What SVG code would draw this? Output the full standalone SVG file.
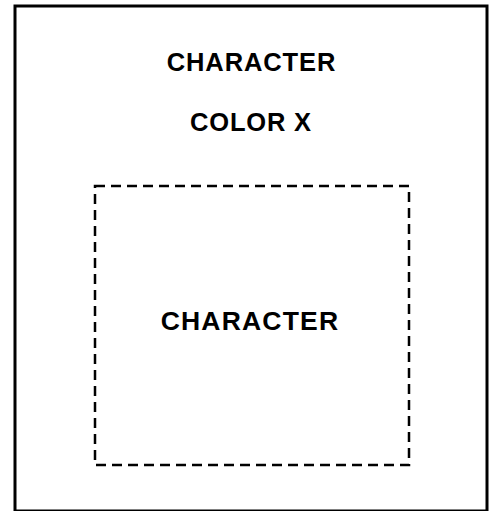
<svg xmlns="http://www.w3.org/2000/svg" width="492" height="511" viewBox="0 0 492 511">
<style>
.t{font-family:"Liberation Sans",Arial,sans-serif;font-weight:bold;fill:#000;text-anchor:middle}
</style>
<rect width="492" height="511" fill="#fff"/>
<g id="outer">
<rect x="15" y="6" width="472" height="505" fill="none" stroke="#000" stroke-width="3"/>
<text class="t" x="251.5" y="71" font-size="25.5" letter-spacing="0.9">CHARACTER</text>
<text class="t" x="251" y="131" font-size="25.5" letter-spacing="0.8">COLOR X</text>
</g>
<g id="inner">
<rect x="95" y="186" width="314" height="279" fill="none" stroke="#000" stroke-width="2.5" stroke-dasharray="10,6"/>
<text class="t" x="250" y="330" font-size="26.5" letter-spacing="1.2">CHARACTER</text>
</g>
</svg>
